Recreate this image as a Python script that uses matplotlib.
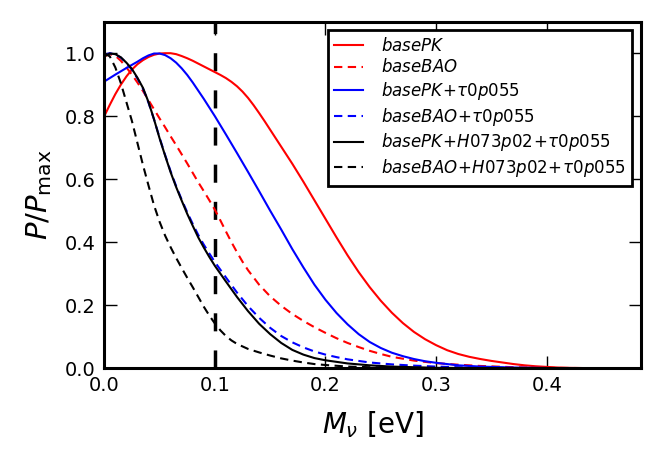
import numpy as np
import matplotlib
matplotlib.use("Agg")
import matplotlib.pyplot as plt

# M_nu grid points and normalised posteriors
x_pk = [0.0, 0.005, 0.01, 0.015, 0.02, 0.025, 0.03, 0.035, 0.04, 0.045, 0.05, 0.055,
        0.06, 0.065, 0.07, 0.075, 0.08, 0.09, 0.10, 0.105, 0.11, 0.115, 0.12, 0.125,
        0.13, 0.135, 0.14, 0.145, 0.15, 0.16, 0.17, 0.18, 0.19, 0.20, 0.21, 0.22, 0.23,
        0.24, 0.25, 0.26, 0.27, 0.28, 0.29, 0.30, 0.31, 0.32, 0.33, 0.34, 0.35, 0.36,
        0.37, 0.38, 0.39, 0.40, 0.41, 0.42, 0.44]
p_pk = [0.80, 0.836, 0.87, 0.90, 0.926, 0.948, 0.965, 0.978, 0.988, 0.995, 0.999, 1.0,
        1.0, 0.997, 0.991, 0.984, 0.976, 0.958, 0.94, 0.931, 0.921, 0.909, 0.895, 0.878,
        0.858, 0.835, 0.81, 0.784, 0.757, 0.703, 0.649, 0.592, 0.533, 0.474, 0.415, 0.358, 0.305,
        0.257, 0.214, 0.176, 0.143, 0.115, 0.092, 0.073, 0.057, 0.045, 0.036, 0.029, 0.023, 0.018,
        0.013, 0.009, 0.006, 0.004, 0.002, 0.001, 0.0]

x_bao = [0.0, 0.005, 0.01, 0.015, 0.02, 0.025, 0.03, 0.035, 0.04, 0.045, 0.05, 0.055,
         0.06, 0.065, 0.07, 0.075, 0.08, 0.085, 0.09, 0.095, 0.10, 0.105, 0.11, 0.115,
         0.12, 0.125, 0.13, 0.14, 0.15, 0.16, 0.17, 0.18, 0.19, 0.20, 0.21, 0.22, 0.23,
         0.24, 0.25, 0.26, 0.28, 0.30, 0.32, 0.34, 0.37, 0.40, 0.45]
p_bao = [0.99, 0.997, 0.992, 0.976, 0.955, 0.932, 0.907, 0.88, 0.851, 0.822, 0.793, 0.765,
         0.736, 0.708, 0.679, 0.65, 0.62, 0.59, 0.562, 0.533, 0.503, 0.469, 0.434, 0.4,
         0.368, 0.338, 0.311, 0.265, 0.228, 0.198, 0.172, 0.15, 0.13, 0.112, 0.095, 0.08, 0.067,
         0.055, 0.045, 0.036, 0.024, 0.016, 0.011, 0.007, 0.003, 0.001, 0.0]

x_pk_tau = [0.0, 0.01, 0.02, 0.03, 0.035, 0.04, 0.045, 0.05, 0.055, 0.06, 0.065, 0.07,
            0.075, 0.08, 0.09, 0.10, 0.11, 0.12, 0.13, 0.14, 0.15, 0.16, 0.17, 0.18, 0.19,
            0.20, 0.21, 0.22, 0.23, 0.24, 0.25, 0.26, 0.27, 0.28, 0.29, 0.30, 0.32, 0.34,
            0.37, 0.40]
p_pk_tau = [0.91, 0.932, 0.953, 0.973, 0.984, 0.993, 0.999, 0.999, 0.994, 0.984, 0.97, 0.952,
            0.931, 0.907, 0.855, 0.80, 0.742, 0.683, 0.623, 0.562, 0.50, 0.44, 0.378, 0.32, 0.265,
            0.217, 0.175, 0.139, 0.108, 0.083, 0.064, 0.049, 0.038, 0.029, 0.022, 0.017, 0.009, 0.005,
            0.002, 0.0005]

x_bao_tau = [0.0, 0.005, 0.01, 0.015, 0.02, 0.025, 0.03, 0.035, 0.04, 0.045, 0.05, 0.055,
             0.06, 0.065, 0.07, 0.075, 0.08, 0.085, 0.09, 0.095, 0.10, 0.11, 0.12, 0.13,
             0.14, 0.15, 0.16, 0.17, 0.18, 0.19, 0.20, 0.21, 0.22, 0.24, 0.26, 0.28, 0.30,
             0.33, 0.37, 0.40]
p_bao_tau = [0.995, 1.0, 0.996, 0.986, 0.969, 0.948, 0.92, 0.888, 0.843, 0.79, 0.732, 0.677,
             0.625, 0.578, 0.535, 0.495, 0.458, 0.423, 0.392, 0.364, 0.337, 0.288, 0.24, 0.197,
             0.16, 0.128, 0.102, 0.082, 0.066, 0.053, 0.043, 0.035, 0.028, 0.018, 0.012, 0.008, 0.005,
             0.002, 0.0005, 0.0]

x_pk_h0 = [0.0, 0.005, 0.01, 0.015, 0.02, 0.025, 0.03, 0.035, 0.04, 0.045, 0.05, 0.055,
           0.06, 0.065, 0.07, 0.075, 0.08, 0.085, 0.09, 0.095, 0.10, 0.11, 0.12, 0.13,
           0.14, 0.15, 0.16, 0.17, 0.18, 0.19, 0.20, 0.21, 0.22, 0.24, 0.26, 0.28, 0.30, 0.35]
p_pk_h0 = [0.99, 0.999, 0.997, 0.987, 0.97, 0.95, 0.922, 0.89, 0.845, 0.79, 0.73, 0.675,
           0.622, 0.575, 0.532, 0.49, 0.452, 0.415, 0.383, 0.353, 0.325, 0.275, 0.226, 0.181,
           0.141, 0.108, 0.08, 0.058, 0.043, 0.032, 0.025, 0.02, 0.015, 0.009, 0.005, 0.003, 0.001, 0.0]

x_bao_h0 = [0.0, 0.005, 0.01, 0.015, 0.02, 0.025, 0.03, 0.035, 0.04, 0.045, 0.05, 0.055,
            0.06, 0.065, 0.07, 0.075, 0.08, 0.085, 0.09, 0.095, 0.10, 0.105, 0.11, 0.115,
            0.12, 0.13, 0.14, 0.15, 0.16, 0.17, 0.18, 0.19, 0.20, 0.22, 0.25, 0.30]
p_bao_h0 = [1.0, 0.99, 0.955, 0.905, 0.845, 0.785, 0.715, 0.645, 0.58, 0.517, 0.465, 0.421,
            0.384, 0.35, 0.318, 0.287, 0.257, 0.226, 0.195, 0.167, 0.142, 0.12, 0.102, 0.088,
            0.077, 0.061, 0.05, 0.04, 0.031, 0.024, 0.018, 0.013, 0.01, 0.005, 0.002, 0.0]

labels = [r'$basePK$', r'$baseBAO$', r'$basePK\!+\!\tau0p055$', r'$baseBAO\!+\!\tau0p055$',
          r'$basePK\!+\!H073p02\!+\!\tau0p055$', r'$baseBAO\!+\!H073p02\!+\!\tau0p055$']

mnu_line = 0.1

plt.rcParams['mathtext.fontset'] = 'dejavusans'

fig = plt.figure(figsize=(6.64, 4.72), dpi=100)
ax = fig.add_axes([0.157, 0.22, 0.808, 0.734])

dash = (0, (4, 2.6))
ax.axvline(mnu_line, color='k', lw=2.5, ls=(0, (5.2, 5.5)))
ax.plot(x_pk, p_pk, color='r', ls='-', lw=1.5, label=labels[0])
ax.plot(x_bao, p_bao, color='r', ls=dash, lw=1.5, label=labels[1])
ax.plot(x_pk_tau, p_pk_tau, color='b', ls='-', lw=1.5, label=labels[2])
ax.plot(x_bao_tau, p_bao_tau, color='b', ls=dash, lw=1.5, label=labels[3])
ax.plot(x_pk_h0, p_pk_h0, color='k', ls='-', lw=1.5, label=labels[4])
ax.plot(x_bao_h0, p_bao_h0, color='k', ls=dash, lw=1.5, label=labels[5])

ax.set_xlim(0, 0.485)
ax.set_ylim(0, 1.1)
ax.set_xticks([0.0, 0.1, 0.2, 0.3, 0.4])
ax.set_yticks([0.0, 0.2, 0.4, 0.6, 0.8, 1.0])
ax.tick_params(direction='in', length=9, width=1, top=True, right=True,
               labelsize=14, pad=6)
for s in ax.spines.values():
    s.set_linewidth(2.2)

ax.set_xlabel(r'$M_\nu$ [eV]', fontsize=20, labelpad=10)
ax.set_ylabel(r'$P/P_{\rm max}$', fontsize=21, labelpad=8)

leg = ax.legend(loc='upper right', fontsize=12, handlelength=1.7, handletextpad=1.1,
                fancybox=False, framealpha=1, edgecolor='k', borderaxespad=0.5,
                labelspacing=0.22)
leg.get_frame().set_linewidth(2)

fig.savefig('out.png', dpi=100)
